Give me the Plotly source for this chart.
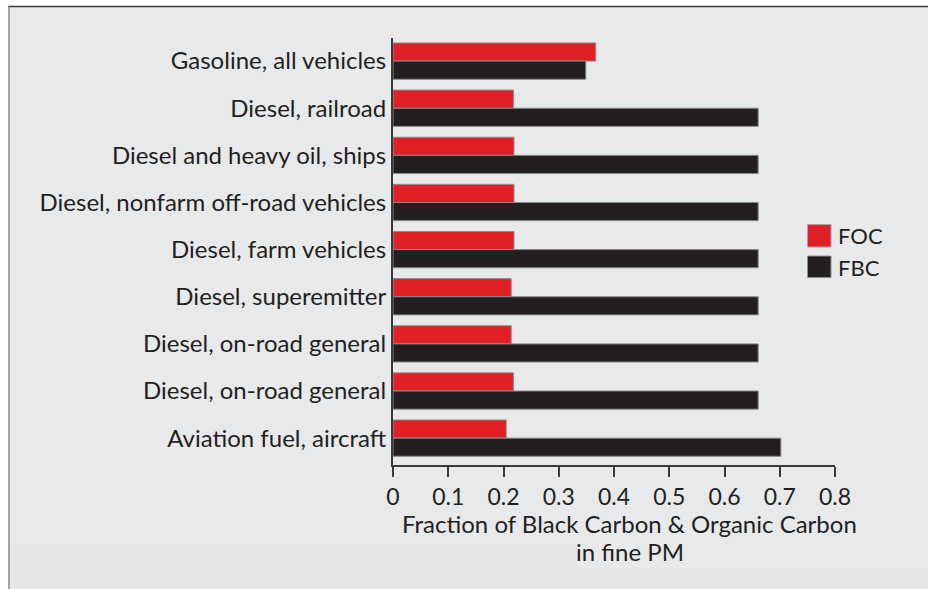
import plotly.graph_objects as go

categories = [
    "Gasoline, all vehicles",
    "Diesel, railroad",
    "Diesel and heavy oil, ships",
    "Diesel, nonfarm off-road vehicles",
    "Diesel, farm vehicles",
    "Diesel, superemitter",
    "Diesel, on-road general",
    "Diesel, on-road general",
    "Aviation fuel, aircraft",
]
foc = [0.367, 0.218, 0.219, 0.219, 0.219, 0.214, 0.214, 0.218, 0.205]
fbc = [0.349, 0.661, 0.661, 0.661, 0.661, 0.661, 0.661, 0.661, 0.702]
series_names = ["FOC", "FBC"]
x_ticks = [0, 0.1, 0.2, 0.3, 0.4, 0.5, 0.6, 0.7, 0.8]
x_ticklabels = ["0", "0.1", "0.2", "0.3", "0.4", "0.5", "0.6", "0.7", "0.8"]
x_title_lines = ["Fraction of Black Carbon & Organic Carbon", "in fine PM"]

RED = "#e01f26"
BLACK = "#231f20"
BG = "#e8e9eb"
TXT = "#231f20"
FONT = "Lato"

W, H = 928, 589
L, R, T, B = 393, 835, 38, 465


def px(x):
    return (x - L) / (R - L)


def py(y):
    return (B - y) / (B - T)


ypos = list(range(len(categories)))

fig = go.Figure()
fig.add_trace(go.Bar(
    y=ypos, x=foc, orientation="h", name=series_names[0],
    marker=dict(color=RED, line=dict(color="#9a8a8a", width=1)),
    showlegend=False,
))
fig.add_trace(go.Bar(
    y=ypos, x=fbc, orientation="h", name=series_names[1],
    marker=dict(color=BLACK, line=dict(color="#8a8a8a", width=1)),
    showlegend=False,
))

shapes = [
    # gray panel
    dict(type="rect", xref="paper", yref="paper", x0=px(9), x1=px(W + 5), y0=py(H + 5), y1=py(6),
         fillcolor=BG, line=dict(width=0), layer="below"),
    dict(type="rect", xref="paper", yref="paper", x0=px(14), x1=px(577), y0=py(H + 5), y1=py(545),
         fillcolor="#e4e5e7", line=dict(width=0), layer="below"),
    dict(type="rect", xref="paper", yref="paper", x0=px(577), x1=px(W + 5), y0=py(H + 5), y1=py(568),
         fillcolor="#e4e5e7", line=dict(width=0), layer="below"),
    # frame lines
    dict(type="line", xref="paper", yref="paper", x0=px(8), x1=px(W + 5), y0=py(6.5), y1=py(6.5),
         line=dict(color="#3a3a3a", width=1.5)),
    dict(type="line", xref="paper", yref="paper", x0=px(9), x1=px(9), y0=py(6), y1=py(H + 5),
         line=dict(color="#888888", width=1.5)),
    # legend squares
    dict(type="rect", xref="paper", yref="paper", x0=px(807.5), x1=px(831), y0=py(247), y1=py(224.5),
         fillcolor=RED, line=dict(color="#b0a0a0", width=1)),
    dict(type="rect", xref="paper", yref="paper", x0=px(807.5), x1=px(831), y0=py(277.5), y1=py(256),
         fillcolor=BLACK, line=dict(color="#909090", width=1)),
]

annotations = [
    dict(text=series_names[0], xref="paper", yref="paper", x=px(836), y=py(236), xanchor="left",
         yanchor="middle", showarrow=False, font=dict(family=FONT, size=22, color=TXT)),
    dict(text=series_names[1], xref="paper", yref="paper", x=px(836), y=py(267), xanchor="left",
         yanchor="middle", showarrow=False, font=dict(family=FONT, size=22, color=TXT)),
    dict(text=x_title_lines[0], xref="paper", yref="paper", x=px(629.5), y=py(523), xanchor="center",
         yanchor="middle", showarrow=False, font=dict(family=FONT, size=24, color=TXT)),
    dict(text=x_title_lines[1], xref="paper", yref="paper", x=px(629.5), y=py(551), xanchor="center",
         yanchor="middle", showarrow=False, font=dict(family=FONT, size=24, color=TXT)),
]

fig.update_layout(
    width=W, height=H,
    margin=dict(l=L, r=W - R, t=T, b=H - B, pad=0),
    paper_bgcolor="white",
    plot_bgcolor="rgba(0,0,0,0)",
    barmode="group",
    bargap=0.23,
    bargroupgap=0,
    font=dict(family=FONT, size=24, color=TXT),
    shapes=shapes,
    annotations=annotations,
    showlegend=False,
    hovermode=False,
)
fig.update_xaxes(
    range=[0, 0.8], tickvals=x_ticks, ticktext=x_ticklabels,
    showgrid=False, zeroline=False, showline=True, linecolor="#3a3a3a", linewidth=2,
    ticks="outside", ticklen=10, tickwidth=2, tickcolor="#3a3a3a",
    tickfont=dict(family=FONT, size=23, color=TXT), fixedrange=True,
)
fig.update_yaxes(
    range=[8.57, -0.49], tickvals=ypos, ticktext=categories,
    showgrid=False, zeroline=False, showline=True, linecolor="#3a3a3a", linewidth=2,
    ticks="", ticklabelstandoff=0,
    tickfont=dict(family=FONT, size=24, color=TXT), fixedrange=True,
)

fig.write_html(
    "out.html",
    config={"displayModeBar": False, "staticPlot": True},
    post_script="document.body.style.margin='0';document.body.style.overflow='hidden';",
)
